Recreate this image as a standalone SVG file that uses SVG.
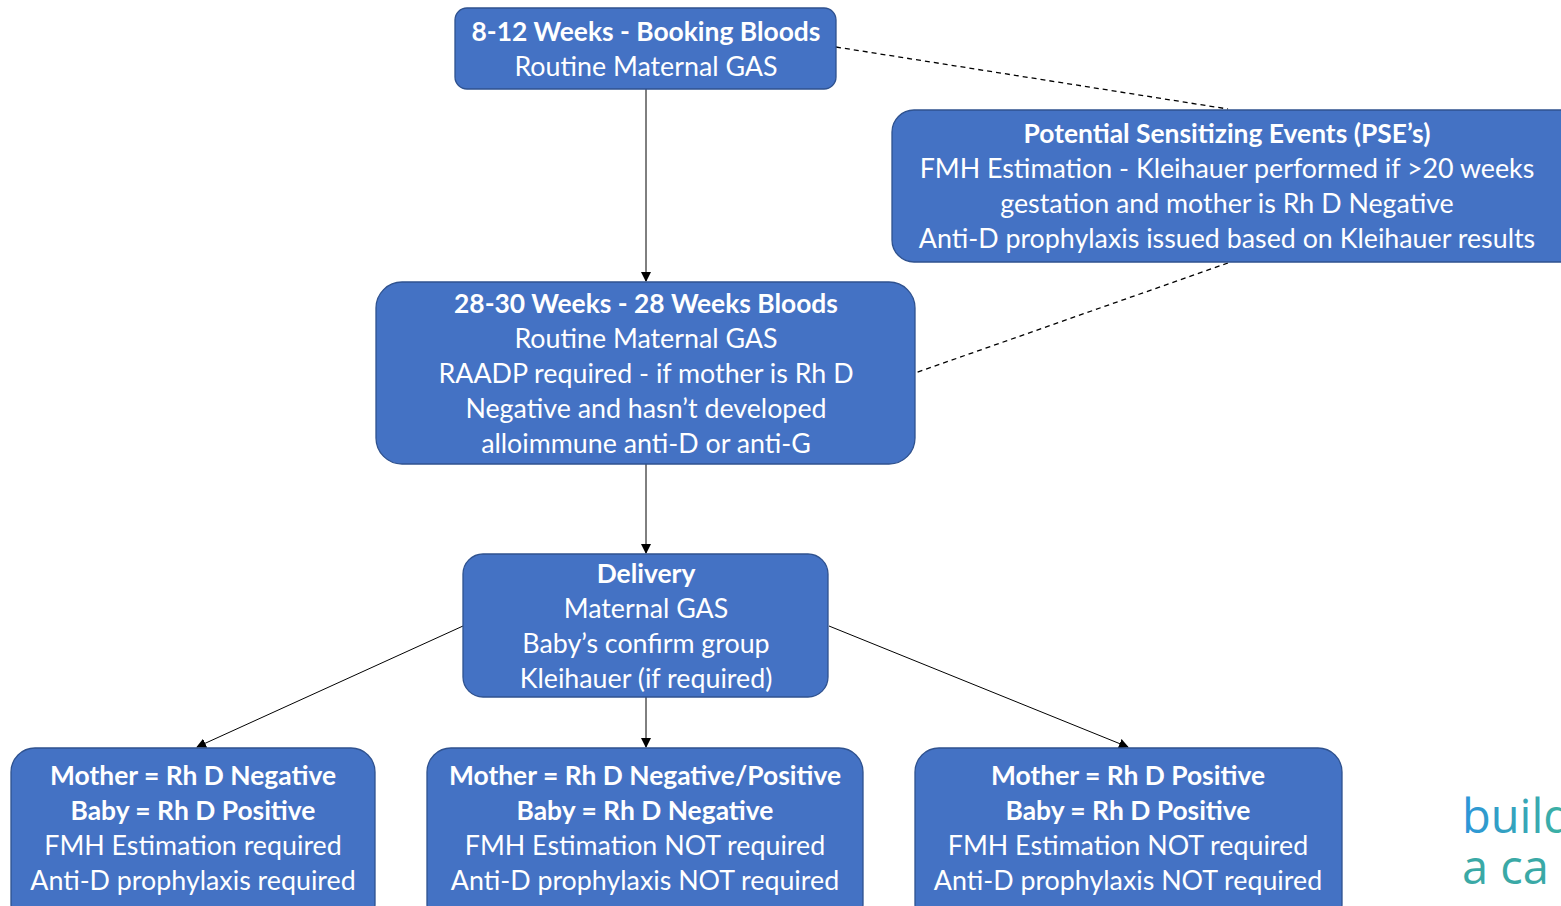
<svg xmlns="http://www.w3.org/2000/svg" width="1561" height="906" viewBox="0 0 1561 906">
<defs>
<style>
.box{fill:#4472C4;stroke:#2F528F;stroke-width:1.3}
.t{font-family:Lato,"Open Sans","Liberation Sans",sans-serif;font-size:26.8px;fill:#FFFFFF;text-anchor:middle}
.b{font-weight:bold;font-size:26.4px}
.ln{stroke:#000;stroke-width:1;fill:none}
.dash{stroke:#000;stroke-width:1.3;fill:none;stroke-dasharray:5,4}
.logo{font-family:"Open Sans","Noto Sans",sans-serif;font-size:47px}
</style>
<marker id="ah" markerWidth="10" markerHeight="10" refX="9" refY="5" orient="auto" markerUnits="userSpaceOnUse">
<path d="M0,0 L10,5 L0,10 Z" fill="#000"/>
</marker>
<linearGradient id="lg1" gradientUnits="userSpaceOnUse" x1="1462" y1="0" x2="1561" y2="0">
<stop offset="0" stop-color="#2C95DA"/>
<stop offset="1" stop-color="#3CB0A3"/>
</linearGradient>
</defs>
<rect width="1561" height="906" fill="#FFFFFF"/>
<g id="connectors">
<line class="ln" x1="646" y1="89" x2="646" y2="281" marker-end="url(#ah)"/>
<line class="ln" x1="646" y1="464" x2="646" y2="553" marker-end="url(#ah)"/>
<line class="ln" x1="646" y1="697" x2="646" y2="747" marker-end="url(#ah)"/>
<line class="ln" x1="463" y1="626" x2="197" y2="747" marker-end="url(#ah)"/>
<line class="ln" x1="829" y1="626" x2="1128" y2="747" marker-end="url(#ah)"/>
<line class="dash" x1="836" y1="47" x2="1228" y2="109"/>
<line class="dash" x1="1228" y1="263" x2="915" y2="373"/>
</g>
<g id="booking">
<rect class="box" x="455" y="8" width="381" height="81" rx="12"/>
<text class="t b" x="646" y="41">8-12 Weeks - Booking Bloods</text>
<text class="t" x="646" y="76">Routine Maternal GAS</text>
</g>
<g id="pse">
<rect class="box" x="892" y="110" width="690" height="152" rx="22"/>
<text class="t b" x="1227" y="143">Potential Sensitizing Events (PSE’s)</text>
<text class="t" x="1227" y="178">FMH Estimation - Kleihauer performed if &gt;20 weeks</text>
<text class="t" x="1227" y="213">gestation and mother is Rh D Negative</text>
<text class="t" x="1227" y="248">Anti-D prophylaxis issued based on Kleihauer results</text>
</g>
<g id="weeks28">
<rect class="box" x="376" y="282" width="539" height="182" rx="26"/>
<text class="t b" x="646" y="313">28-30 Weeks - 28 Weeks Bloods</text>
<text class="t" x="646" y="348">Routine Maternal GAS</text>
<text class="t" x="646" y="383">RAADP required - if mother is Rh D</text>
<text class="t" x="646" y="418">Negative and hasn’t developed</text>
<text class="t" x="646" y="453">alloimmune anti-D or anti-G</text>
</g>
<g id="delivery">
<rect class="box" x="463" y="554" width="365" height="143" rx="20"/>
<text class="t b" x="646" y="583">Delivery</text>
<text class="t" x="646" y="618">Maternal GAS</text>
<text class="t" x="646" y="653">Baby’s confirm group</text>
<text class="t" x="646" y="688">Kleihauer (if required)</text>
</g>
<g id="outcome-left">
<rect class="box" x="11" y="748" width="364" height="180" rx="24"/>
<text class="t b" x="193" y="785">Mother = Rh D Negative</text>
<text class="t b" x="193" y="820">Baby = Rh D Positive</text>
<text class="t" x="193" y="855">FMH Estimation required</text>
<text class="t" x="193" y="890">Anti-D prophylaxis required</text>
</g>
<g id="outcome-middle">
<rect class="box" x="427" y="748" width="436" height="180" rx="24"/>
<text class="t b" x="645" y="785">Mother = Rh D Negative/Positive</text>
<text class="t b" x="645" y="820">Baby = Rh D Negative</text>
<text class="t" x="645" y="855">FMH Estimation NOT required</text>
<text class="t" x="645" y="890">Anti-D prophylaxis NOT required</text>
</g>
<g id="outcome-right">
<rect class="box" x="915" y="748" width="427" height="180" rx="24"/>
<text class="t b" x="1128" y="785">Mother = Rh D Positive</text>
<text class="t b" x="1128" y="820">Baby = Rh D Positive</text>
<text class="t" x="1128" y="855">FMH Estimation NOT required</text>
<text class="t" x="1128" y="890">Anti-D prophylaxis NOT required</text>
</g>
<g id="logo">
<text class="logo" x="1462" y="833" fill="url(#lg1)">build</text>
<text class="logo" x="1462" y="884" fill="#3AA9A6">a ca</text>
</g>
</svg>
